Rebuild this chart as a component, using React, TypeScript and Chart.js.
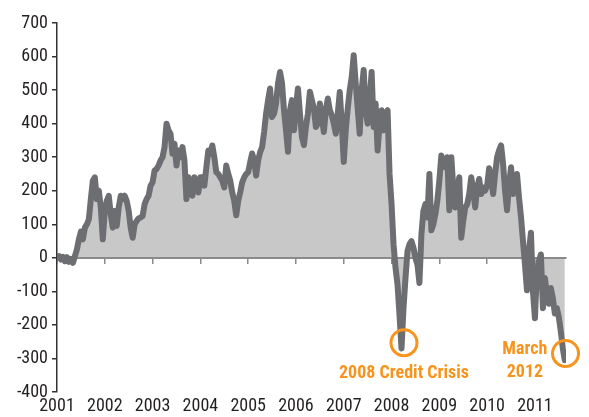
import React, { useEffect, useRef } from 'react';
import { Chart, registerables } from 'chart.js';

Chart.register(...registerables);

// Semi-monthly readings (24 per year)
const v2001 = [0, 5, -5, 3, -10, 2, -12, -3, -15, 5, 25, 55, 78, 55, 90, 100, 115, 175, 230, 240, 175, 200, 150, 55];
const v2002 = [140, 170, 185, 130, 90, 140, 95, 150, 185, 175, 185, 170, 140, 90, 60, 100, 110, 118, 120, 125, 160, 175, 185, 215];
const v2003 = [225, 260, 265, 275, 290, 300, 330, 400, 380, 370, 310, 340, 275, 320, 300, 330, 290, 175, 240, 200, 185, 240, 210, 195];
const v2004 = [240, 240, 215, 270, 320, 310, 335, 300, 255, 250, 240, 230, 210, 275, 250, 230, 195, 170, 127, 170, 195, 225, 240, 250];
const v2005 = [255, 285, 311, 290, 245, 290, 315, 330, 375, 430, 470, 505, 420, 430, 460, 520, 554, 520, 440, 380, 316, 440, 470, 380];
const v2006 = [450, 505, 430, 360, 336, 390, 430, 495, 470, 445, 390, 400, 460, 420, 375, 440, 475, 440, 425, 400, 370, 430, 494, 400];
const v2007 = [286, 380, 445, 500, 539, 604, 520, 445, 370, 500, 560, 440, 400, 470, 554, 390, 460, 320, 400, 440, 380, 430, 440, 250];
const v2008 = [160, 40, -30, -80, -170, -270, -150, -60, 20, 40, 50, 30, 0, -20, -75, 70, 140, 160, 120, 250, 82, 100, 130, 170];
const v2009 = [230, 305, 280, 270, 300, 142, 300, 210, 150, 200, 240, 60, 110, 150, 160, 190, 240, 200, 150, 210, 235, 190, 210, 200];
const v2010 = [215, 267, 240, 190, 250, 300, 320, 335, 280, 200, 142, 220, 270, 190, 220, 250, 180, 122, 50, -20, -97, 20, 75, -100];
const v2011 = [-180, -40, -10, 10, -150, -60, -110, -137, -90, -120, -166, -150, -177, -220, -270, -305];

const yearSeries = [v2001, v2002, v2003, v2004, v2005, v2006, v2007, v2008, v2009, v2010, v2011];
const firstYear = 2001;
const samplesPerYear = 24;
const xMax = 2011.65;
const yMin = -400;
const yMax = 700;
const yStep = 100;

// Annotations in data coordinates
const circleMarks = [
  { x: 2008.26, y: -253 },
  { x: 2011.64, y: -285 },
];
const textMarks = [
  { x: 2008.26, y: -346, text: '2008 Credit Crisis' },
  { x: 2010.79, y: -272, text: 'March' },
  { x: 2010.79, y: -343, text: '2012' },
];

const ORANGE = '#F7941D';
const FONT = "'Liberation Sans Narrow', 'Roboto Condensed', 'DejaVu Sans Condensed', sans-serif";

const annotationPlugin = {
  id: 'annotations',
  afterDraw(chart: any) {
    const { ctx } = chart;
    const xs = chart.scales.x;
    const ys = chart.scales.y;
    ctx.save();
    ctx.strokeStyle = ORANGE;
    ctx.lineWidth = 3;
    circleMarks.forEach((c) => {
      ctx.beginPath();
      ctx.arc(xs.getPixelForValue(c.x), ys.getPixelForValue(c.y), 13, 0, Math.PI * 2);
      ctx.stroke();
    });
    ctx.fillStyle = ORANGE;
    ctx.font = `bold 18px ${FONT}`;
    ctx.textAlign = 'center';
    ctx.textBaseline = 'middle';
    textMarks.forEach((t) => {
      ctx.fillText(t.text, xs.getPixelForValue(t.x), ys.getPixelForValue(t.y));
    });
    ctx.restore();
  },
};

export default function App() {
  const canvasRef = useRef<HTMLCanvasElement | null>(null);

  useEffect(() => {
    const points = yearSeries.flatMap((arr, yi) =>
      arr.map((v, i) => ({ x: firstYear + yi + i / samplesPerYear, y: v }))
    );
    const integerTicks = (s: any) => {
      s.ticks = s.ticks.filter((t: any) => Math.abs(t.value - Math.round(t.value)) < 1e-6);
    };
    const chart = new Chart(canvasRef.current as HTMLCanvasElement, {
      type: 'line',
      data: {
        datasets: [
          {
            data: points,
            borderColor: '#6d6e71',
            borderWidth: 6,
            backgroundColor: '#c8c8c8',
            fill: 'origin',
            pointRadius: 0,
            tension: 0,
            borderJoinStyle: 'round',
            borderCapStyle: 'round',
            xAxisID: 'x',
            yAxisID: 'y',
          } as any,
        ],
      },
      options: {
        responsive: false,
        animation: false,
        events: [],
        layout: { padding: { top: 23, right: 23, bottom: 0, left: 0 } },
        plugins: {
          legend: { display: false },
          tooltip: { enabled: false },
          filler: { drawTime: 'beforeDraw' } as any,
        },
        scales: {
          x: {
            type: 'linear',
            position: { y: 0 } as any,
            min: firstYear,
            max: xMax,
            ticks: { display: false, stepSize: 1, includeBounds: false } as any,
            afterBuildTicks: integerTicks,
            grid: {
              display: true,
              drawOnChartArea: false,
              drawTicks: true,
              tickLength: 5,
              color: '#8a8a8a',
              lineWidth: 1.5,
            },
            border: { display: true, color: '#8a8a8a', width: 2 },
          },
          x2: {
            type: 'linear',
            position: 'bottom',
            min: firstYear,
            max: xMax,
            ticks: {
              stepSize: 1,
              includeBounds: false,
              padding: 4,
              color: '#231f20',
              font: { family: FONT, size: 18 },
              maxRotation: 0,
              autoSkip: false,
              callback: (v: any) => String(v),
            } as any,
            afterBuildTicks: integerTicks,
            afterFit: (s: any) => {
              s.height = 25;
            },
            grid: { display: false, drawTicks: false },
            border: { display: false },
          },
          y: {
            type: 'linear',
            position: 'left',
            min: yMin,
            max: yMax,
            ticks: {
              stepSize: yStep,
              padding: 4,
              color: '#231f20',
              font: { family: FONT, size: 18 },
            },
            afterFit: (s: any) => {
              s.width = 57;
            },
            grid: {
              display: true,
              drawOnChartArea: false,
              drawTicks: true,
              tickLength: 5,
              color: '#333333',
              lineWidth: 1.5,
            },
            border: { display: true, color: '#333333', width: 1.5 },
          },
        },
      },
      plugins: [annotationPlugin],
    });
    return () => chart.destroy();
  }, []);

  return (
    <div style={{ position: 'absolute', left: 0, top: 0, width: 589, height: 417, background: '#fff' }}>
      <canvas ref={canvasRef} width={589} height={417} />
    </div>
  );
}
